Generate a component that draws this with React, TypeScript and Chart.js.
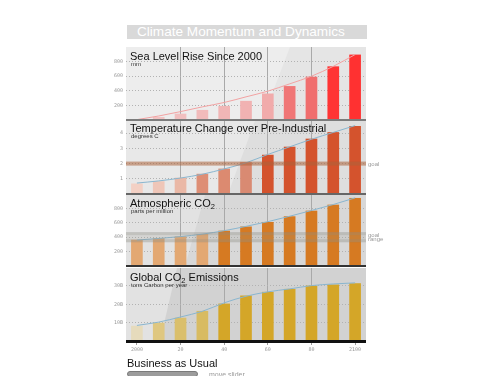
import React, { useEffect, useRef } from 'react';
import { Chart, registerables } from 'chart.js';
Chart.register(...registerables);

// ---------- data ----------
const years = ['2000', '2010', '2020', '2030', '2040', '2050', '2060', '2070', '2080', '2090', '2100'];
const xTickLabels = ['2000', '', '20', '', '40', '', '60', '', '80', '', '2100'];

const seaLevelBars = [10, 41, 87, 138, 193, 262, 363, 465, 593, 735, 896];
const seaLevelTrend = [5, 55, 115, 180, 240, 317, 395, 495, 600, 735, 896];
const seaLevelTicks = [200, 400, 600, 800];

const temperatureBars = [0.69, 0.84, 1.07, 1.33, 1.67, 2.09, 2.58, 3.11, 3.64, 4.07, 4.47];
const temperatureTrend = [0.72, 0.86, 1.05, 1.3, 1.65, 2.05, 2.6, 3.1, 3.6, 4.05, 4.5];
const temperatureTicks = [1, 2, 3, 4];
const temperatureGoal = 2;

const co2Bars = [365, 389, 412, 444, 490, 548, 611, 690, 768, 851, 944];
const co2Trend = [360, 382, 408, 442, 490, 550, 615, 690, 770, 853, 945];
const co2Ticks = [200, 400, 600, 800];
const co2GoalRange = [330, 470];

const emissionsBars = [8.3, 10, 12.7, 16.4, 20.4, 24.8, 26.8, 28.4, 30.2, 30.8, 31.5];
const emissionsTrend = [8.5, 10.3, 13.1, 16.2, 20.8, 24.4, 26.8, 28.4, 30.2, 31.1, 31.7];
const emissionsTicks = [10, 20, 30];

const seaColors = ['#f3cccc', '#f2c3c3', '#f1bfbf', '#f1bbbb', '#f1b6b6', '#f1b2b2', '#f1abab', '#f07676', '#f06e6e', '#ff3434', '#ff3131'];
const tempColors = ['#f3d0c4', '#efc6b8', '#eab8a6', '#de8e75', '#dc8a70', '#d98a72', '#d4532d', '#d4532d', '#d4532d', '#d4532d', '#d4532d'];
const co2Colors = ['#e3a872', '#e3a872', '#e3a872', '#e3a872', '#d67a22', '#d67a22', '#d67a22', '#d67a22', '#d67a22', '#d67a22', '#d67a22'];
const emColors = ['#e6dbbc', '#dfc780', '#dabf6c', '#d8bb62', '#d4a628', '#d4a628', '#d4a628', '#d4a628', '#d4a628', '#d4a628', '#d4a628'];

const CANVAS_LEFT = 100;
const SANS = '"Liberation Sans", Arial, sans-serif';
const MONO = '"DejaVu Sans Mono", monospace';

type Panel = {
  top: number; height: number; xAxis: boolean; max: number;
  bars: number[]; trend: number[]; colors: string[]; trendColor: string;
  ticks: number[]; suffix: string;
  title: [string, boolean][]; titleBase: number; sub: string; subBase: number;
  bg: string; gloss: string; gx0: number; gx1: number;
  goal?: number; goalRange?: number[];
};

const panels: Panel[] = [
  {
    top: 47, height: 73, xAxis: false, max: 1000,
    bars: seaLevelBars, trend: seaLevelTrend, colors: seaColors, trendColor: '#f2a2a2',
    ticks: seaLevelTicks, suffix: '',
    title: [['Sea Level Rise Since 2000', false]], titleBase: 59.5, sub: 'mm', subBase: 65.5,
    bg: '#e5e5e5', gloss: '#ededed', gx0: 290, gx1: 262,
  },
  {
    top: 121, height: 73, xAxis: false, max: 4.8,
    bars: temperatureBars, trend: temperatureTrend, colors: tempColors, trendColor: '#8ab6cf',
    ticks: temperatureTicks, suffix: '',
    title: [['Temperature Change over Pre-Industrial', false]], titleBase: 131.5, sub: 'degrees C', subBase: 138,
    bg: '#dedede', gloss: '#e8e8e8', gx0: 255, gx1: 228, goal: temperatureGoal,
  },
  {
    top: 195, height: 71, xAxis: false, max: 985,
    bars: co2Bars, trend: co2Trend, colors: co2Colors, trendColor: '#8ab6cf',
    ticks: co2Ticks, suffix: '',
    title: [['Atmospheric CO', false], ['2', true]], titleBase: 207, sub: 'parts per million', subBase: 213,
    bg: '#d8d8d8', gloss: '#e2e2e2', gx0: 205, gx1: 185, goalRange: co2GoalRange,
  },
  {
    top: 268, height: 73, xAxis: true, max: 39.8,
    bars: emissionsBars, trend: emissionsTrend, colors: emColors, trendColor: '#8ab6cf',
    ticks: emissionsTicks, suffix: 'B',
    title: [['Global CO', false], ['2', true], [' Emissions', false]], titleBase: 281, sub: 'tons Carbon per year', subBase: 287,
    bg: '#d2d2d2', gloss: '#e2e2e2', gx0: 177, gx1: 160,
  },
];

function makePlugin(p: Panel) {
  return {
    id: 'panelDeco',
    beforeDraw(chart: any) {
      const { ctx, chartArea: a } = chart;
      ctx.save();
      ctx.fillStyle = p.bg;
      ctx.fillRect(a.left, a.top, a.right - a.left, a.bottom - a.top);
      ctx.fillStyle = p.gloss;
      ctx.beginPath();
      ctx.moveTo(a.left, a.top);
      ctx.lineTo(p.gx0 - CANVAS_LEFT, a.top);
      ctx.lineTo(p.gx1 - CANVAS_LEFT, a.bottom);
      ctx.lineTo(a.left, a.bottom);
      ctx.closePath();
      ctx.fill();
      ctx.restore();
    },
    afterDatasetsDraw(chart: any) {
      const { ctx, chartArea: a, scales } = chart;
      const y = scales.y;
      ctx.save();
      ctx.font = '6px ' + SANS;
      ctx.fillStyle = '#9a9a9a';
      ctx.textBaseline = 'alphabetic';
      if (p.goal !== undefined) {
        const py = y.getPixelForValue(p.goal);
        ctx.fillStyle = 'rgba(172,98,58,0.55)';
        ctx.fillRect(a.left, py - 2, a.right - a.left, 4);
        ctx.fillStyle = '#9a9a9a';
        ctx.fillText('goal', a.right + 2, py + 2);
      }
      if (p.goalRange) {
        const y1 = y.getPixelForValue(p.goalRange[1]);
        const y2 = y.getPixelForValue(p.goalRange[0]);
        ctx.fillStyle = 'rgba(150,150,140,0.18)';
        ctx.fillRect(a.left, y1, a.right - a.left, y2 - y1);
        ctx.fillStyle = 'rgba(140,140,130,0.25)';
        ctx.fillRect(a.left, y1, a.right - a.left, 3);
        ctx.fillRect(a.left, y2 - 3, a.right - a.left, 3);
        ctx.fillStyle = '#9a9a9a';
        ctx.fillText('goal', a.right + 2, y1 + 4.5);
        ctx.fillText('range', a.right + 2, y1 + 9);
      }
      ctx.restore();
    },
    afterDraw(chart: any) {
      const { ctx } = chart;
      ctx.save();
      ctx.fillStyle = '#111';
      ctx.textBaseline = 'alphabetic';
      let x = 130 - CANVAS_LEFT;
      const base = p.titleBase - p.top;
      for (const [txt, subscript] of p.title) {
        ctx.font = (subscript ? '7.5px ' : '11px ') + SANS;
        ctx.fillText(txt, x, base + (subscript ? 2 : 0));
        x += ctx.measureText(txt).width;
      }
      ctx.font = '6px ' + SANS;
      ctx.fillStyle = '#333';
      ctx.fillText(p.sub, 131 - CANVAS_LEFT, p.subBase - p.top);
      ctx.restore();
    },
  };
}

function PanelChart({ p }: { p: Panel }) {
  const ref = useRef<HTMLCanvasElement>(null);
  useEffect(() => {
    if (!ref.current) return;
    const chart = new Chart(ref.current, {
      type: 'bar',
      data: {
        labels: years,
        datasets: [
          {
            type: 'line', data: p.trend, borderColor: p.trendColor, borderWidth: 1,
            pointRadius: 0, tension: 0.4, cubicInterpolationMode: 'monotone', fill: false, order: 0,
          } as any,
          {
            type: 'bar', data: p.bars, backgroundColor: p.colors, borderWidth: 0,
            barPercentage: 0.535, categoryPercentage: 1, order: 1,
          } as any,
        ],
      },
      options: {
        animation: false,
        responsive: false,
        devicePixelRatio: 1,
        layout: { padding: { left: 0, right: 34, top: 0, bottom: 0 } },
        plugins: { legend: { display: false }, tooltip: { enabled: false }, title: { display: false } },
        scales: {
          x: {
            display: true,
            offset: true,
            grid: {
              offset: false,
              drawTicks: p.xAxis,
              tickLength: 4,
              lineWidth: 1,
              color: (c: any) => ([2, 4, 6, 8].includes(c.index) ? '#a9a9a9' : 'rgba(0,0,0,0)'),
              tickColor: (c: any) => (c.index % 2 === 0 ? '#9a9a9a' : 'rgba(0,0,0,0)'),
            },
            border: { display: false },
            ticks: {
              display: p.xAxis, autoSkip: false, maxRotation: 0, minRotation: 0, padding: 2,
              font: { family: MONO, size: 5 }, color: '#999',
              callback: (_v: any, i: number) => xTickLabels[i],
            },
            afterFit: (s: any) => { s.height = p.xAxis ? 14 : 0; s.paddingLeft = 0; s.paddingRight = 0; },
          },
          y: {
            min: 0, max: p.max,
            afterBuildTicks: (s: any) => { s.ticks = p.ticks.map((v) => ({ value: v })); },
            afterFit: (s: any) => { s.width = 26; s.paddingTop = 0; s.paddingBottom = 0; },
            grid: { color: '#b2b2b2', lineWidth: 1, drawTicks: false },
            border: { display: false, dash: [1, 2] },
            ticks: {
              padding: 3, font: { family: MONO, size: 5 }, color: '#999',
              callback: (v: any) => v + p.suffix,
            },
          },
        },
      } as any,
      plugins: [makePlugin(p)],
    });
    return () => chart.destroy();
  }, [p]);
  return (
    <canvas
      ref={ref}
      width={300}
      height={p.height + (p.xAxis ? 14 : 0)}
      style={{ position: 'absolute', left: CANVAS_LEFT, top: p.top }}
    />
  );
}

const separators = [
  { top: 119, h: 2, color: '#7c7c7c' },
  { top: 193, h: 2, color: '#666' },
  { top: 265, h: 2, color: '#333' },
  { top: 340, h: 3, color: '#111' },
];

export default function App() {
  return (
    <div style={{ position: 'absolute', left: 0, top: 0, width: 500, height: 376, overflow: 'hidden', background: '#fff', fontFamily: SANS }}>
      <div
        style={{
          position: 'absolute', left: 127, top: 25, width: 240, height: 14, background: '#d9d9d9',
          color: '#fff', fontSize: 13.6, lineHeight: '14px', paddingLeft: 10, boxSizing: 'border-box', whiteSpace: 'nowrap',
        }}
      >
        Climate Momentum and Dynamics
      </div>
      {panels.map((p, i) => <PanelChart key={i} p={p} />)}
      {separators.map((s, i) => (
        <div key={i} style={{ position: 'absolute', left: 126, top: s.top, width: 240, height: s.h, background: s.color }} />
      ))}
      <div style={{ position: 'absolute', left: 127, top: 358, fontSize: 11, lineHeight: 1, color: '#111', whiteSpace: 'nowrap' }}>
        Business as Usual
      </div>
      <div style={{ position: 'absolute', left: 127, top: 371, width: 71, height: 6, borderRadius: 3, background: '#9c9c9c', border: '1px solid #7a7a7a', boxSizing: 'border-box' }} />
      <div style={{ position: 'absolute', left: 209, top: 371, fontSize: 7, lineHeight: 1, color: '#999', whiteSpace: 'nowrap' }}>
        move slider
      </div>
    </div>
  );
}
